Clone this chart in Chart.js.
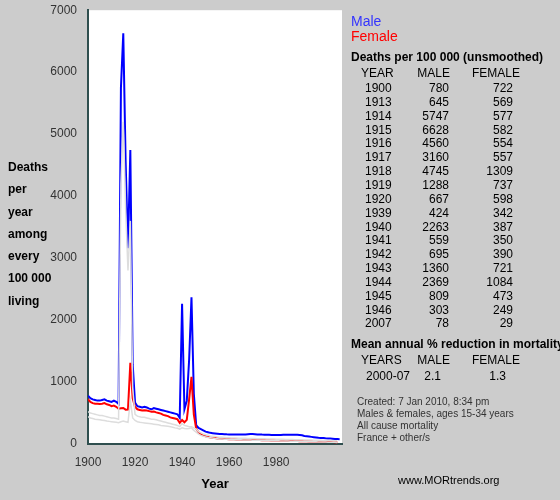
<!DOCTYPE html>
<html><head><meta charset="utf-8">
<script src="https://cdn.jsdelivr.net/npm/chart.js@4"></script>
<style>
body{margin:0;background:#cccccc;font-family:Arial,"Liberation Sans",sans-serif;}
#wrap{position:relative;width:560px;height:500px;}
.t{position:absolute;color:#000;font-size:12px;white-space:nowrap;line-height:14px;}
.r{text-align:right;}
</style></head><body>
<div id="wrap"><canvas id="c" width="560" height="500"></canvas>
<div class="t" style="left:8px;top:156px;font-weight:bold;line-height:22.3px;font-size:12px">Deaths<br>per<br>year<br>among<br>every<br>100 000<br>living</div>
<div class="t" style="left:351px;top:14px;font-size:14px;color:#3333ff">Male</div>
<div class="t" style="left:351px;top:29px;font-size:14px;color:#ff0000">Female</div>
<div class="t" style="left:351px;top:50px;font-weight:bold">Deaths per 100 000 (unsmoothed)</div>
<div id="tbl"></div>
<div class="t" style="left:351px;top:337px;font-weight:bold">Mean annual % reduction in mortality</div>
<div class="t" style="left:361px;top:353px">YEARS</div>
<div class="t r" style="left:400px;width:50px;top:353px">MALE</div>
<div class="t r" style="left:460px;width:60px;top:353px">FEMALE</div>
<div class="t" style="left:366px;top:369px">2000-07</div>
<div class="t r" style="left:400px;width:41px;top:369px">2.1</div>
<div class="t r" style="left:460px;width:46px;top:369px">1.3</div>
<div class="t" style="left:357px;top:396px;font-size:10px;line-height:12px;color:#333">Created: 7 Jan 2010, 8:34 pm<br>Males &amp; females, ages 15-34 years<br>All cause mortality<br>France + other/s</div>
<div class="t" style="left:398px;top:473px;font-size:11px">www.MORtrends.org</div>
</div>
<script>
const years=[];for(let y=1900;y<=2007;y++)years.push(y);
const male=[780,740,720,710,700,700,710,720,700,690,680,700,680,645,5747,6628,4560,3160,4745,1288,667,
610,600,590,600,590,570,560,580,570,560,550,540,530,520,510,500,490,480,424,2263,559,695,1360,2369,809,303,
260,240,220,200,190,180,175,170,165,160,160,158,156,155,155,155,155,155,155,155,155,158,160,160,158,155,155,152,150,150,148,145,145,145,145,145,148,150,150,150,150,150,150,145,140,130,125,120,115,110,105,100,98,95,92,90,88,85,82,80,78];
const female=[722,680,660,650,650,645,650,660,640,630,610,620,600,569,577,582,554,557,1309,737,598,
560,550,540,545,540,530,520,525,510,500,490,470,460,450,430,420,410,400,342,387,350,390,721,1084,473,249,
190,160,140,125,115,105,100,95,90,88,85,82,80,78,76,75,74,73,72,70,69,68,67,66,65,64,63,62,61,60,59,58,57,56,55,54,53,52,51,50,49,48,47,46,45,44,43,42,41,40,39,38,37,36,35,34,33,31,30,29];
const grayA=[520,500,490,480,470,460,460,450,440,430,420,420,410,400,4200,5200,3800,2800,3600,900,480,
450,440,430,430,420,410,400,400,390,380,370,360,350,340,330,320,310,300,280,330,300,290,280,280,260,240,
200,180,160,150,140,130,125,120,115,110,108,105,102,100,98,96,95,94,93,92,91,90,89,88,87,86,85,84,83,82,81,80,79,78,77,76,75,74,73,72,71,70,69,68,67,66,65,64,63,62,61,60,59,58,57,56,55,54,53,52];
const grayB=[440,420,410,400,395,390,385,380,370,365,360,355,350,345,360,370,360,350,700,420,380,
360,350,345,340,335,330,325,320,315,310,300,295,290,285,280,270,260,255,240,260,250,245,250,260,220,190,
160,140,125,115,105,100,95,90,86,82,80,78,76,74,72,70,69,68,67,66,65,64,63,62,61,60,59,58,57,56,55,54,53,52,51,50,49,48,47,46,45,44,43,42,41,40,39,38,37,36,35,34,33,32,31,30,29,28,27,26];
const tableYears=[1900,1913,1914,1915,1916,1917,1918,1919,1920,1939,1940,1941,1942,1943,1944,1945,1946,2007];
const tableMale=[780,645,5747,6628,4560,3160,4745,1288,667,424,2263,559,695,1360,2369,809,303,78];
const tableFemale=[722,569,577,582,554,557,1309,737,598,342,387,350,390,721,1084,473,249,29];

let h='<div class="t" style="left:361px;top:66px">YEAR</div><div class="t r" style="left:400px;width:50px;top:66px">MALE</div><div class="t r" style="left:460px;width:60px;top:66px">FEMALE</div>';
tableYears.forEach((y,i)=>{const t=81+i*13.85;
h+=`<div class="t" style="left:365px;top:${t}px">${y}</div><div class="t r" style="left:400px;width:49px;top:${t}px">${tableMale[i]}</div><div class="t r" style="left:460px;width:53px;top:${t}px">${tableFemale[i]}</div>`;});
document.getElementById('tbl').innerHTML=h;

const pts=a=>a.map((v,i)=>({x:years[i],y:v}));
const ds=(d,c,w)=>({data:pts(d),borderColor:c,borderWidth:w,pointRadius:0,tension:0,fill:false});
new Chart(document.getElementById('c'),{type:'line',
data:{datasets:[ds(grayA,'#dddddd',1.5),ds(grayB,'#dddddd',1.5),ds(female,'#ff0000',2),ds(male,'#0000ff',2)]},
options:{responsive:false,animation:false,
plugins:{legend:{display:false},tooltip:{enabled:false}},
layout:{padding:{left:50,right:218,top:9,bottom:4}},
scales:{
x:{type:'linear',min:1900,max:2008,grid:{display:false,drawTicks:true},border:{color:'#2f4f4f',width:2},
ticks:{stepSize:20,autoSkip:false,maxRotation:0,color:'#333',font:{size:12,family:'Arial'},callback:v=>v%20===0?String(v):''},
title:{display:true,text:'Year',color:'#000',font:{size:13,weight:'bold',family:'Arial'}}},
y:{min:0,max:7000,grid:{display:false},border:{color:'#2f4f4f',width:2},
ticks:{stepSize:1000,color:'#333',font:{size:12,family:'Arial'},callback:v=>String(v)},afterFit:s=>{s.width=38;}}
}},
plugins:[{id:'bg',beforeDraw(c){const a=c.chartArea,x=c.ctx;x.save();x.fillStyle='#fff';x.fillRect(a.left,a.top,a.right-a.left,a.bottom-a.top);x.restore();}}]
});
</script></body></html>
